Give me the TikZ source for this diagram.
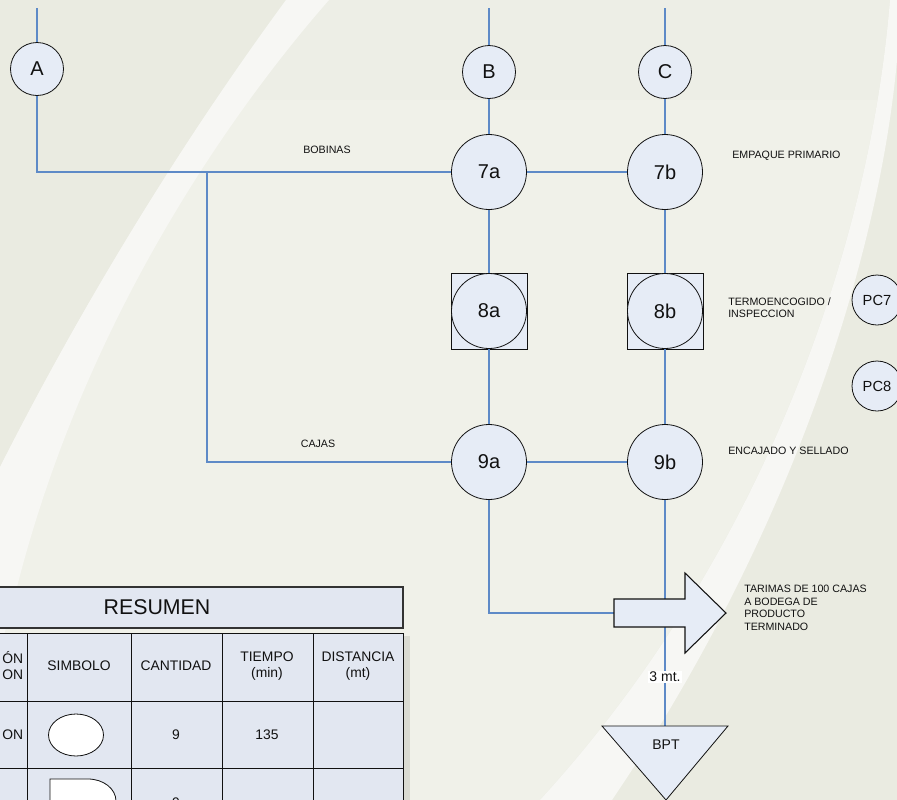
\documentclass[tikz,border=0pt]{standalone}
\usepackage{fontspec}
\setmainfont{Liberation Sans}
\usetikzlibrary{calc}

\definecolor{bgbase}{HTML}{F0F1E9}
\definecolor{bgdark}{HTML}{EAEBE1}
\definecolor{bgtop}{HTML}{EDEEE6}
\definecolor{swoosh}{HTML}{F7F7F4}
\definecolor{nodefill}{HTML}{E6ECF6}
\definecolor{cellfill}{HTML}{E2E7F1}
\definecolor{flow}{HTML}{5E8AC7}
\definecolor{ink}{HTML}{111111}
\definecolor{tshadow}{HTML}{DADBD2}

\tikzset{
  flowline/.style={draw=flow, line width=0.8pt},
  opbig/.style={circle, draw=ink, fill=nodefill, line width=0.6pt, inner sep=0pt,
    minimum size=56.25pt, text=ink, font=\fontsize{15}{18}\selectfont},
  connector/.style={circle, draw=ink, fill=nodefill, line width=0.6pt, inner sep=0pt,
    minimum size=39.75pt, text=ink, font=\fontsize{15}{18}\selectfont},
  pcnode/.style={circle, draw=ink, fill=nodefill, line width=0.6pt, inner sep=0pt,
    minimum size=37.5pt, text=ink, font=\fontsize{11}{13}\selectfont},
  inspbox/.style={rectangle, draw=ink, fill=nodefill, line width=0.6pt, inner sep=0pt,
    minimum size=57pt},
  note/.style={inner sep=0pt, text=ink, font=\fontsize{8}{9.4}\selectfont, align=left},
  celltext/.style={inner sep=0pt, text=ink, font=\fontsize{10.4}{12}\selectfont, align=center},
  cell/.style={fill=cellfill, draw=ink, line width=0.6pt},
}

\begin{document}
\begin{tikzpicture}[x=0.75pt, y=-0.75pt]
\useasboundingbox (0,0) rectangle (897,800);
\clip (0,0) rectangle (897,800);

% ---- background with two light swooshes ----
\fill[bgbase] (0,0) rectangle (897,800);
\fill[bgtop] (0,0) rectangle (897,100);
\fill[bgdark] (0,0) -- (286,0) .. controls (220,90) and (110,250) .. (0,467) -- cycle;
\fill[bgdark] (890,0) .. controls (870,250) and (760,560) .. (540,800) -- (897,800) -- (897,0) -- cycle;
\fill[swoosh] (286,0) -- (329,0) .. controls (250,90) and (90,300) .. (17,587) -- (0,650)
  -- (0,467) .. controls (110,250) and (220,90) .. (286,0) -- cycle;
\fill[swoosh] (890,0) .. controls (870,250) and (760,560) .. (540,800) -- (612,800)
  .. controls (795,530) and (880,250) .. (897,60) -- (897,0) -- cycle;

% ---- process symbols ----
\node[connector] (A) at (37,69) {A};
\node[connector] (B) at (489,72) {B};
\node[connector] (C) at (665,72) {C};

\node[opbig] (7a) at (489,172) {7a};
\node[opbig] (7b) at (665,172) {7b};

\node[inspbox] (8aBox) at (489,311) {};
\node[opbig] (8a) at (489,311) {8a};
\node[inspbox] (8bBox) at (665,311) {};
\node[opbig] (8b) at (665,311) {8b};

\node[opbig] (9a) at (489,462) {9a};
\node[opbig] (9b) at (665,462) {9b};

\node[pcnode] (PC7) at (877,300) {PC7};
\node[pcnode] (PC8) at (877,386) {PC8};

% ---- free ends and junctions ----
\coordinate (topA) at (37,8);
\coordinate (topB) at (489,8);
\coordinate (topC) at (665,8);
\coordinate (split) at (207,172);
\coordinate (arrowIn) at (614,613);
\coordinate (bptTop) at (665,726);

% ---- flow lines ----
\draw[flowline] (topA) -- (A.north);
\draw[flowline] (topB) -- (B.north);
\draw[flowline] (topC) -- (C.north);
\draw[flowline] (B.south) -- (7a.north);
\draw[flowline] (C.south) -- (7b.north);
\draw[flowline] (A.south) |- (7a.west);
\draw[flowline] (split) |- (9a.west);
\draw[flowline] (7a.east) -- (7b.west);
\draw[flowline] (7a.south) -- (8aBox.north);
\draw[flowline] (7b.south) -- (8bBox.north);
\draw[flowline] (8aBox.south) -- (9a.north);
\draw[flowline] (8bBox.south) -- (9b.north);
\draw[flowline] (9a.east) -- (9b.west);
\draw[flowline] (9a.south) |- (arrowIn);
\draw[flowline] (9b.south) -- (bptTop);

% ---- block arrow to storage ----
\draw[fill=nodefill, draw=ink, line width=0.8pt]
  (arrowIn) -- (614,599) -- (685,599) -- (685,573) -- (726,613)
  -- (685,653) -- (685,627) -- (614,627) -- cycle;

% ---- storage triangle ----
\draw[fill=nodefill, draw=ink, line width=0.6pt]
  (bptTop) -- (602,726) -- (666,800) -- (728,726) -- cycle;
\node[inner sep=0pt, text=ink, font=\fontsize{10.5}{12}\selectfont] (BPT) at (666,745) {BPT};

\node[fill=white, inner sep=1pt, text=ink, font=\fontsize{10.5}{12}\selectfont] (dist) at (665,677) {3 mt.};

% ---- notes ----
\node[note] (bobinas) at (327,150) {BOBINAS};
\node[note] (cajas) at (318,444) {CAJAS};
\node[note, anchor=west] (nEmp) at (732,156) {EMPAQUE PRIMARIO};
\node[note, anchor=west] (nTerm) at (728,307.5) {TERMOENCOGIDO /\\INSPECCION};
\node[note, anchor=west] (nEnc) at (728,451) {ENCAJADO Y SELLADO};
\node[note, anchor=north west] (nTar) at (744,585)
  {TARIMAS DE 100 CAJAS\\A BODEGA DE\\PRODUCTO\\TERMINADO};

% ---- summary table ----
\fill[tshadow] (403,636) rectangle (410,840);
\draw[cell, line width=0.9pt, draw=black!80] (-90,587) rectangle (403,628);
\node[celltext, font=\fontsize{16}{18}\selectfont] (resumen) at (157,607) {RESUMEN};

\foreach \ya/\yb in {633/701, 701/768, 768/840}{
  \foreach \xa/\xb in {-90/27, 27/131, 131/222, 222/313, 313/403}{
    \draw[cell] (\xa,\ya) rectangle (\xb,\yb);
  }
}

\node[celltext, anchor=west, align=left] (hAct) at (2,666) {ÓN\\ON};
\node[celltext] (hSim) at (79,666) {SIMBOLO};
\node[celltext] (hCant) at (176,666) {CANTIDAD};
\node[celltext] (hTiem) at (267,666) {TIEMPO\\(min)};
\node[celltext] (hDist) at (358,666) {DISTANCIA\\(mt)};

\node[celltext, anchor=west] (r1Act) at (2,735) {ON};
\draw[fill=white, draw=ink, line width=0.6pt] (76,735) ellipse (27.5 and 21);
\node[celltext] (r1Cant) at (176,735) {9};
\node[celltext] (r1Tiem) at (267,735) {135};

\draw[fill=white, draw=ink, line width=0.6pt]
  (50,823) -- (50,779) -- (88,779) arc (-90:90:28 and 22) -- cycle;
\node[celltext] (r2Cant) at (176,803) {9};

\end{tikzpicture}
\end{document}
